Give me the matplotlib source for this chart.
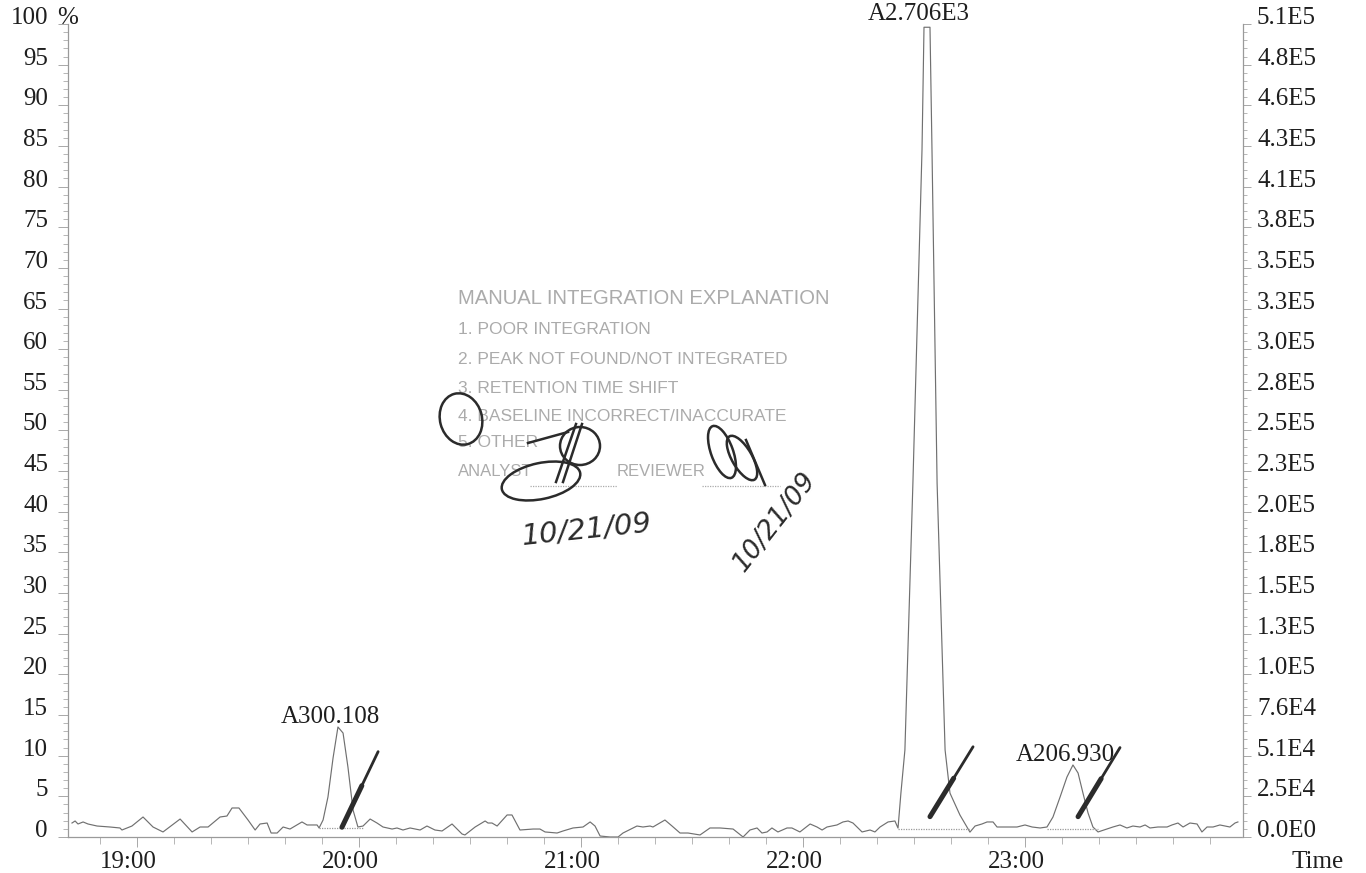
#!/usr/bin/env python3
"""Chromatogram trace with manual-integration stamp, rebuilt from a scanned print."""

import matplotlib

matplotlib.use("Agg")
import matplotlib.pyplot as plt
from matplotlib.patches import Ellipse
from matplotlib.ticker import MultipleLocator

plt.rcParams["font.family"] = ["Liberation Serif", "DejaVu Serif"]

# retention time (min) and relative intensity (%)
TIME = [
    18.707, 18.721, 18.734, 18.757, 18.779, 18.820, 18.878, 18.923, 18.932,
    18.977, 19.027, 19.072, 19.117, 19.194, 19.248, 19.284, 19.320, 19.374,
    19.405, 19.428, 19.459, 19.500, 19.532, 19.554, 19.586, 19.604, 19.631,
    19.658, 19.689, 19.743, 19.766, 19.811, 19.820, 19.838, 19.860, 19.883,
    19.905, 19.928, 19.950, 19.973, 19.995, 20.018, 20.050, 20.081, 20.108,
    20.149, 20.171, 20.198, 20.230, 20.275, 20.306, 20.342, 20.374, 20.419,
    20.464, 20.477, 20.523, 20.568, 20.581, 20.599, 20.622, 20.667, 20.689,
    20.725, 20.784, 20.815, 20.838, 20.892, 20.919, 20.964, 21.009, 21.041,
    21.063, 21.086, 21.131, 21.167, 21.189, 21.252, 21.279, 21.311, 21.324,
    21.378, 21.410, 21.446, 21.482, 21.536, 21.581, 21.626, 21.685, 21.730,
    21.761, 21.793, 21.815, 21.838, 21.860, 21.887, 21.928, 21.950, 21.986,
    22.032, 22.063, 22.086, 22.108, 22.153, 22.180, 22.203, 22.225, 22.266,
    22.302, 22.324, 22.347, 22.383, 22.414, 22.428, 22.441, 22.459, 22.495,
    22.536, 22.545, 22.572, 22.581, 22.604, 22.640, 22.662, 22.707, 22.752,
    22.775, 22.806, 22.829, 22.856, 22.874, 22.919, 22.964, 23.000,
    23.032, 23.068, 23.099, 23.126, 23.158, 23.189, 23.216, 23.239, 23.261,
    23.284, 23.306, 23.329, 23.369, 23.396, 23.428, 23.459, 23.486, 23.518,
    23.541, 23.563, 23.599, 23.640, 23.662, 23.689, 23.712, 23.743, 23.775,
    23.797, 23.820, 23.847, 23.878, 23.923, 23.946, 23.959,
]
INTENSITY = [
    1.72, 1.97, 1.60, 1.85, 1.60, 1.35, 1.23, 1.11, 0.86,
    1.35, 2.46, 1.23, 0.62, 2.21, 0.62, 1.23, 1.23, 2.46,
    2.58, 3.57, 3.57, 2.09, 0.86, 1.60, 1.72, 0.49, 0.49,
    1.23, 0.98, 1.85, 1.48, 1.48, 1.11, 2.09, 4.92, 9.72,
    13.53, 12.79, 8.61, 3.32, 1.23, 1.35, 2.21, 1.72, 1.23,
    0.98, 1.11, 0.86, 1.11, 0.86, 1.35, 0.86, 0.74, 1.60,
    0.37, 0.25, 1.23, 1.97, 1.72, 1.72, 1.35, 2.71, 2.71,
    0.86, 0.98, 0.98, 0.62, 0.49, 0.74, 1.11, 1.23, 1.85,
    1.35, 0.12, 0.00, 0.00, 0.49, 1.35, 1.23, 1.35, 1.23,
    2.09, 1.35, 0.49, 0.49, 0.25, 1.11, 1.11, 0.98, 0.00,
    0.86, 1.11, 0.49, 0.62, 1.11, 0.62, 1.11, 1.11, 0.62,
    1.60, 1.23, 0.86, 1.23, 1.48, 1.85, 1.97, 1.72, 0.62,
    0.86, 0.62, 1.23, 1.85, 1.97, 1.10, 5.40, 10.70, 43.50,
    84.50, 99.60, 99.60, 84.50, 43.50, 10.70, 5.40, 2.70, 0.60,
    1.35, 1.60, 1.85, 1.85, 1.23, 1.23, 1.23, 1.48,
    1.23, 1.11, 1.23, 2.46, 4.92, 7.38, 8.86, 7.87, 5.41,
    2.95, 1.23, 0.62, 0.98, 1.23, 1.48, 1.11, 1.35, 1.23,
    1.48, 1.11, 1.23, 1.23, 1.48, 1.72, 1.23, 1.72, 1.60,
    0.62, 1.23, 1.23, 1.48, 1.23, 1.72, 1.85,
]

# integrated peaks: apex, area label, drawn baseline
PEAK_TIME = [19.905, 22.559, 23.216]
PEAK_HEIGHT = [13.5, 100.0, 8.86]
PEAK_LABELS = ["A300.108", "A2.706E3", "A206.930"]
BASE_START = [19.820, 22.428, 23.099]
BASE_END = [20.018, 22.752, 23.329]
BASE_LEVEL = [1.1, 1.0, 1.0]

# reviewer tick marks drawn through each peak (time, %)
MARK_START = [(19.923, 1.2), (22.572, 2.5), (23.239, 2.5)]
MARK_END = [(20.086, 10.5), (22.766, 11.1), (23.428, 11.0)]

PCT_TICKS = list(range(0, 101, 5))
PCT_LABELS = ["0", "5", "10", "15", "20", "25", "30", "35", "40", "45", "50",
              "55", "60", "65", "70", "75", "80", "85", "90", "95", "100"]
ABS_LABELS = ["0.0E0", "2.5E4", "5.1E4", "7.6E4", "1.0E5", "1.3E5", "1.5E5",
              "1.8E5", "2.0E5", "2.3E5", "2.5E5", "2.8E5", "3.0E5", "3.3E5",
              "3.5E5", "3.8E5", "4.1E5", "4.3E5", "4.6E5", "4.8E5", "5.1E5"]
TIME_TICKS = [19, 20, 21, 22, 23]
TIME_LABELS = ["19:00", "20:00", "21:00", "22:00", "23:00"]

STAMP_TITLE = "MANUAL INTEGRATION EXPLANATION"
STAMP_LINES = [
    "1. POOR INTEGRATION",
    "2. PEAK NOT FOUND/NOT INTEGRATED",
    "3. RETENTION TIME SHIFT",
    "4. BASELINE INCORRECT/INACCURATE",
    "5. OTHER",
]
STAMP_LEVELS = [62.4, 58.7, 55.2, 51.7, 48.5]
HAND_DATE = "10/21/09"

AXIS_GREY = "#9a9a9a"
INK = "#1e1e1e"
PEN = "#2b2b2b"
STAMP_GREY = "#ababab"
PX = 0.72  # points per pixel at dpi 100

W, H = 1366, 873
fig = plt.figure(figsize=(W / 100, H / 100), dpi=100)
ax = fig.add_axes([68 / W, 36 / H, (1243 - 68) / W, (837 - 24) / H])
ax.set_xlim(18.689, 23.982)
ax.set_ylim(0, 100)

ax.plot(TIME, INTENSITY, color="#707070", linewidth=0.85, clip_on=False)
ax.hlines(BASE_LEVEL, BASE_START, BASE_END, color=AXIS_GREY,
          linestyle=(0, (1, 1)), linewidth=0.9)

for t, h, lab in zip(PEAK_TIME, PEAK_HEIGHT, PEAK_LABELS):
    ax.annotate(lab, xy=(t, h), xytext=(-8 * PX, 4 * PX),
                textcoords="offset points", ha="center", va="baseline",
                fontsize=18, color=INK, annotation_clip=False)

for (x0, y0), (x1, y1) in zip(MARK_START, MARK_END):
    ax.plot([x0, x1], [y0, y1], color=PEN, linewidth=2.0,
            solid_capstyle="round")
    ax.plot([x0, x0 + 0.55 * (x1 - x0)], [y0, y0 + 0.55 * (y1 - y0)],
            color=PEN, linewidth=3.6, solid_capstyle="round")

# axes styled like the printout: dotted frame, outward ticks, no top line
for side in ("left", "bottom"):
    ax.spines[side].set(color=AXIS_GREY, linestyle=(0, (1, 1)), linewidth=0.9)
ax.spines["top"].set_visible(False)
ax.spines["right"].set_visible(False)

ax.set_yticks(PCT_TICKS, PCT_LABELS)
ax.yaxis.set_minor_locator(MultipleLocator(1))
ax.tick_params(axis="y", which="major", direction="out", length=10 * PX,
               width=0.6, color=AXIS_GREY, pad=10 * PX, labelsize=18,
               labelcolor=INK)
ax.tick_params(axis="y", which="minor", direction="out", length=5 * PX,
               width=0.5, color=AXIS_GREY)
for lab in ax.get_yticklabels():
    lab.set_verticalalignment("baseline")

ax.set_xticks(TIME_TICKS, [""] * len(TIME_TICKS))
ax.xaxis.set_minor_locator(MultipleLocator(1 / 6))
ax.tick_params(axis="x", which="major", direction="out", length=10 * PX,
               width=0.6, color=AXIS_GREY)
ax.tick_params(axis="x", which="minor", direction="out", length=7 * PX,
               width=0.5, color=AXIS_GREY)
for t, lab in zip(TIME_TICKS, TIME_LABELS):
    ax.annotate(lab, xy=(t, 0), xycoords=("data", "axes fraction"),
                xytext=(-9 * PX, -31 * PX), textcoords="offset points",
                ha="center", va="baseline", fontsize=18, color=INK)
ax.annotate("Time", xy=(1, 0), xycoords="axes fraction",
            xytext=(75 * PX, -31 * PX), textcoords="offset points",
            ha="center", va="baseline", fontsize=18, color=INK)
ax.annotate("%", xy=(0, 1), xycoords="axes fraction",
            xytext=(-11 * PX, 0), textcoords="offset points",
            ha="left", va="baseline", fontsize=18, color=INK)

ax2 = ax.twinx()
ax2.set_ylim(0, 100)
for side in ("left", "top", "bottom"):
    ax2.spines[side].set_visible(False)
ax2.spines["right"].set(color=AXIS_GREY, linestyle=(0, (1, 1)), linewidth=0.9)
ax2.set_yticks(PCT_TICKS, ABS_LABELS)
ax2.yaxis.set_minor_locator(MultipleLocator(1))
ax2.tick_params(axis="y", which="major", direction="out", length=8 * PX,
                width=0.6, color=AXIS_GREY, pad=6 * PX, labelsize=18,
                labelcolor=INK)
ax2.tick_params(axis="y", which="minor", direction="out", length=4 * PX,
                width=0.5, color=AXIS_GREY)
for lab in ax2.get_yticklabels():
    lab.set_verticalalignment("baseline")

# rubber stamp
stamp_x = 20.446
ax.text(stamp_x, 66.2, STAMP_TITLE, family="Liberation Sans", fontsize=14.6,
        color=STAMP_GREY, va="center", ha="left")
for text, level in zip(STAMP_LINES, STAMP_LEVELS):
    ax.text(stamp_x, level, text, family="Liberation Sans", fontsize=12.5,
            color=STAMP_GREY, va="center", ha="left")
ax.text(stamp_x, 44.9, "ANALYST", family="Liberation Sans", fontsize=12.0,
        color=STAMP_GREY, va="center", ha="left")
ax.text(21.162, 44.9, "REVIEWER", family="Liberation Sans", fontsize=12.0,
        color=STAMP_GREY, va="center", ha="left")
ax.hlines([43.2, 43.2], [20.770, 21.545], [21.162, 21.896], color=STAMP_GREY,
          linestyle=(0, (1, 1)), linewidth=0.9)

# handwriting, placed in page pixels
page = fig.dpi_scale_trans


def pen_loop(cx, cy, w, h, angle):
    fig.add_artist(Ellipse((cx / 100, (H - cy) / 100), w / 100, h / 100,
                           angle=angle, fill=False, edgecolor=PEN,
                           linewidth=1.8, transform=page))


def pen_stroke(x0, y0, x1, y1):
    fig.add_artist(plt.Line2D([x0 / 100, x1 / 100],
                              [(H - y0) / 100, (H - y1) / 100], color=PEN,
                              linewidth=1.8, transform=page))


pen_loop(461, 419, 42, 52, 15)
pen_loop(541, 481, 80, 36, 12)
pen_loop(580, 446, 40, 38, 0)
pen_stroke(528, 443, 568, 432)
pen_stroke(556, 482, 576, 424)
pen_stroke(563, 482, 582, 424)
pen_loop(722, 452, 22, 55, 20)
pen_loop(742, 458, 20, 50, 30)
pen_stroke(746, 440, 765, 485)

fig.text(586 / 100, (H - 530) / 100, HAND_DATE, transform=page,
         family="DejaVu Sans", style="italic", fontsize=21, color=PEN,
         ha="center", va="center", rotation=6)
fig.text(775 / 100, (H - 522) / 100, HAND_DATE, transform=page,
         family="DejaVu Sans", style="italic", fontsize=19, color=PEN,
         ha="center", va="center", rotation=52)

fig.savefig("out.png", dpi=100, facecolor="white")
